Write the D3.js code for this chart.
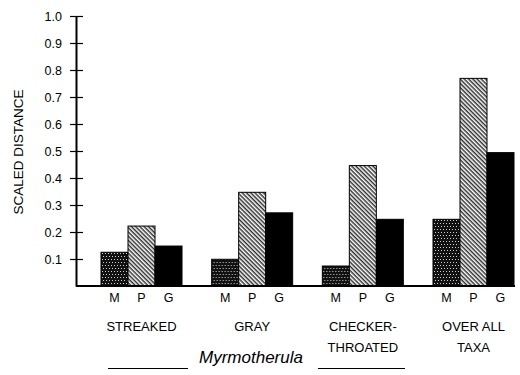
<!DOCTYPE html>
<html>
<head>
<meta charset="utf-8">
<script src="https://cdn.jsdelivr.net/npm/d3@7"></script>
<style>
  body { margin: 0; background: #fff; }
  svg { display: block; font-family: "Liberation Sans", Arial, sans-serif; }
</style>
</head>
<body>
<svg id="chart" width="520" height="375"></svg>
<script>
const groups = ["STREAKED", "GRAY", "CHECKER-THROATED", "OVER ALL TAXA"];
const groupLines = [["STREAKED"], ["GRAY"], ["CHECKER-", "THROATED"], ["OVER ALL", "TAXA"]];
const series = ["M", "P", "G"];
const valuesM = [0.125, 0.099, 0.074, 0.247];
const valuesP = [0.222, 0.347, 0.446, 0.769];
const valuesG = [0.148, 0.271, 0.247, 0.494];
const yTicks = [0.1, 0.2, 0.3, 0.4, 0.5, 0.6, 0.7, 0.8, 0.9, 1.0];

const ctx = {
    AXIS_X: 76,
    TOP: 16,
    BASE: 286,
    RIGHT: 514,
};

const svg = d3.select("#chart");
const defs = svg.append("defs");

// stipple for M: black with scattered white specks
const stip = defs.append("pattern")
    .attr("id", "stipple")
    .attr("patternUnits", "userSpaceOnUse")
    .attr("width", 6).attr("height", 6);
stip.append("rect").attr("width", 6).attr("height", 6).attr("fill", "#111");
[[1, 1], [4, 1], [2, 4], [5, 4]].forEach(p => {
    stip.append("rect").attr("x", p[0]).attr("y", p[1])
        .attr("width", 1).attr("height", 1).attr("fill", "#ccc");
});

// diagonal hatch for P ("\" direction)
const hatch = defs.append("pattern")
    .attr("id", "hatch")
    .attr("patternUnits", "userSpaceOnUse")
    .attr("width", 3).attr("height", 3)
    .attr("patternTransform", "rotate(45)");
hatch.append("rect").attr("width", 3).attr("height", 3).attr("fill", "#fff");
hatch.append("line").attr("x1", 0).attr("y1", 0.75).attr("x2", 3).attr("y2", 0.75)
    .attr("stroke", "#222").attr("stroke-width", 1.4);

const fills = { M: "url(#stipple)", P: "url(#hatch)", G: "#000" };

const y = d3.scaleLinear().domain([0, 1]).range([ctx.BASE, ctx.TOP]);
const x0 = d3.scaleBand().domain(groups).range([ctx.AXIS_X + 25, ctx.RIGHT]).paddingInner(0.268);
const x1 = d3.scaleBand().domain(series).range([0, x0.bandwidth()]);

const data = groups.map((g, i) => ({
    group: g,
    vals: [
        { key: "M", v: valuesM[i] },
        { key: "P", v: valuesP[i] },
        { key: "G", v: valuesG[i] },
    ],
}));

// bars
const gg = svg.selectAll(".grp").data(data).enter().append("g")
    .attr("transform", d => `translate(${x0(d.group)},0)`);
gg.selectAll("rect").data(d => d.vals).enter().append("rect")
    .attr("x", d => x1(d.key))
    .attr("y", d => y(d.v))
    .attr("width", x1.bandwidth())
    .attr("height", d => y(0) - y(d.v))
    .attr("fill", d => fills[d.key])
    .attr("stroke", "#000")
    .attr("stroke-width", 1);

// series letters under bars
gg.selectAll(".ser").data(d => d.vals).enter().append("text")
    .attr("x", d => x1(d.key) + x1.bandwidth() / 2)
    .attr("y", 302)
    .attr("text-anchor", "middle")
    .attr("font-size", 12.5)
    .text(d => d.key);

// group labels
gg.each(function (d, i) {
    const t = d3.select(this);
    groupLines[i].forEach((line, j) => {
        t.append("text")
            .attr("x", x0.bandwidth() / 2)
            .attr("y", 331 + j * 21)
            .attr("text-anchor", "middle")
            .attr("font-size", 13)
            .text(line);
    });
});

// baseline
svg.append("line")
    .attr("x1", ctx.AXIS_X).attr("x2", ctx.RIGHT + 1)
    .attr("y1", ctx.BASE).attr("y2", ctx.BASE)
    .attr("stroke", "#000").attr("stroke-width", 2);

// y axis
const yAxis = d3.axisLeft(y).tickValues(yTicks).tickFormat(d3.format(".1f"))
    .tickSizeInner(0).tickSizeOuter(0).tickPadding(14);
const ax = svg.append("g").attr("transform", `translate(${ctx.AXIS_X},0)`).call(yAxis);
ax.select(".domain").attr("stroke-width", 2);
ax.selectAll(".tick text").attr("font-size", 12.5).attr("fill", "#000")
    .attr("font-family", "Liberation Sans, Arial, sans-serif");
ax.selectAll(".tick").append("line")
    .attr("x1", -6).attr("x2", 7).attr("stroke", "#000").attr("stroke-width", 1.2);

svg.append("text")
    .attr("transform", `translate(23,152) rotate(-90)`)
    .attr("text-anchor", "middle")
    .attr("font-size", 13.5)
    .text("SCALED DISTANCE");

// genus label with rules
svg.append("text")
    .attr("x", 251).attr("y", 363)
    .attr("text-anchor", "middle")
    .attr("font-size", 17)
    .attr("font-style", "italic")
    .text("Myrmotherula");
[[108, 188], [318, 405]].forEach(s => {
    svg.append("line")
        .attr("x1", s[0]).attr("x2", s[1])
        .attr("y1", 368.5).attr("y2", 368.5)
        .attr("stroke", "#000").attr("stroke-width", 1.2);
});
</script>
</body>
</html>
